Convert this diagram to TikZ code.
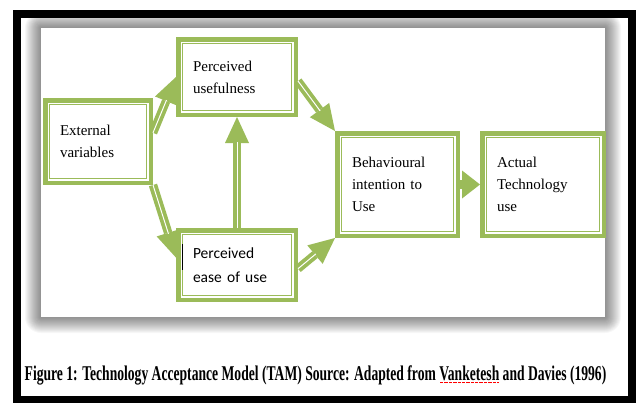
\documentclass[tikz,border=0pt]{standalone}
\usepackage{fontspec}
\setmainfont{Liberation Serif}
\newfontfamily\calibri{Carlito}
\usepackage{tikz}
\usetikzlibrary{arrows.meta,positioning,calc}
\definecolor{tamgreen}{RGB}{155,187,89}
\newcommand\redul[1]{\setbox0\hbox{#1}\rlap{\color{red}\raisebox{-3pt}{\leaders\hbox to 2pt{\hss\rule{1pt}{1pt}\hss}\hskip\wd0}}\copy0\relax}
\begin{document}
\begin{tikzpicture}[x=1pt, y=-1pt, node distance=145.5pt]
\tikzstyle{tambox}=[draw=tamgreen, line width=4.5pt, fill=white, inner sep=0pt, align=left, font=\fontsize{15}{22}\selectfont,
  path picture={\draw[tamgreen, line width=1.3pt] ([shift={(4.3pt,4.3pt)}]path picture bounding box.south west) rectangle ([shift={(-4.3pt,-4.3pt)}]path picture bounding box.north east);}]
\tikzstyle{tamshaft}=[draw=tamgreen, line width=8.5pt]
\tikzstyle{tamarrow}=[tamshaft, -{Triangle[length=26pt, width=24pt, line width=0pt]}, postaction={draw=white, line width=1pt, shorten >=25pt, -}]

\fill[white] (0,0) rectangle (636,402);
\useasboundingbox (0,0) rectangle (636,402);
\foreach \i in {1,...,16}
  \fill[black, opacity=0.03, rounded corners=\i pt] (41-\i,28-\i) rectangle (605+\i,317+\i);
\fill[white] (41,28) rectangle (605,317);
\draw[line width=8pt] (17,13.5) rectangle (632,400);

\node[tambox, minimum width=105.5pt, minimum height=82.5pt, text width=76pt] (ext) at (98,141.5) {External\\variables};
\node[tambox, minimum width=117.5pt, minimum height=75.5pt, text width=88pt] (use) at (237,77) {Perceived\\usefulness};
\node[tambox, minimum width=117.5pt, minimum height=69.5pt, text width=88pt, font=\calibri\fontsize{15.5}{24}\selectfont, node distance=188pt] (ease) [below of=use] {Perceived\\ease of use};
\node[tambox, minimum width=120.5pt, minimum height=102.5pt, text width=91pt] (beh) at (397.5,184.5) {Behavioural\\intention to\\Use};
\node[tambox, minimum width=121.5pt, minimum height=102.5pt, text width=92pt] (act) [right of=beh] {Actual\\Technology\\use};
\draw[line width=1pt] (182,244) -- (182,270);

\draw[tamarrow] ($(ext.north east)!0.4!(ext.south east)$) -- (use.west);
\draw[tamarrow] (ext.south east) -- ($(ease.north west)!0.4!(ease.south west)$);
\draw[tamarrow] (ease.north) -- (use.south);
\draw[tamarrow] ($(use.north east)!0.55!(use.south east)$) -- (beh.north west);
\draw[tamarrow] ($(ease.north east)!0.55!(ease.south east)$) -- (beh.south west);
\draw[tamshaft, -{Triangle[length=18pt, width=28pt, line width=0pt]}] (beh.east) -- (act.west);

\node (caption) at (315.5,375) {\scalebox{0.648}[1]{\bfseries\fontsize{21}{25}\selectfont Figure 1: Technology Acceptance Model (TAM) Source: Adapted from \redul{Vanketesh} and Davies (1996)}};
\end{tikzpicture}
\end{document}
